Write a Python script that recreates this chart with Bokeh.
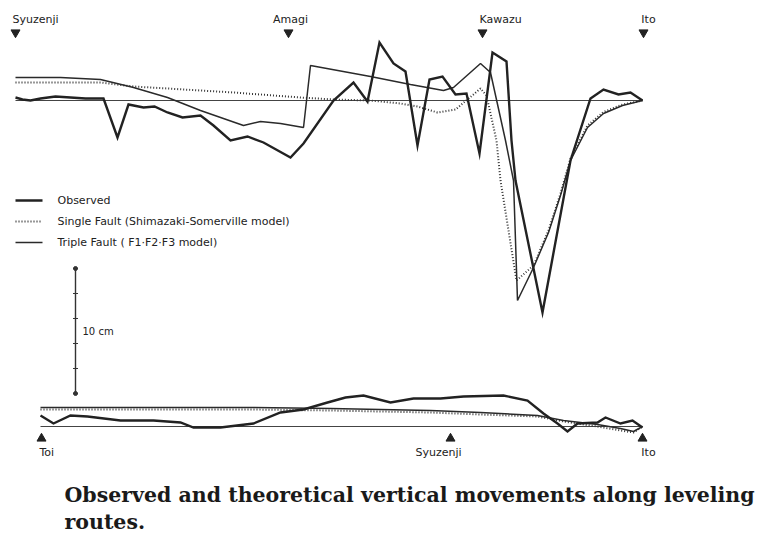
from bokeh.plotting import figure
from bokeh.models import Range1d, Label
from bokeh.embed import file_html
from bokeh.resources import INLINE

# ---------------------------------------------------------------
# Leveling route 1: Syuzenji - Amagi - Kawazu - Ito
# x: distance along the route (plot units), values: vertical movement (cm)
# ---------------------------------------------------------------
top_stations = ["Syuzenji", "Amagi", "Kawazu", "Ito"]
top_station_x = [15, 288, 482, 643]

top_obs_x = [15, 22, 30, 40, 55, 70, 85, 103, 117, 128, 143, 154, 167, 182, 200, 213,
             230, 247, 263, 290, 303, 333, 353, 367, 379, 393, 405, 417, 429, 442,
             455, 466, 479, 492, 506, 511, 515, 542, 570, 590, 603, 618, 630, 642]
top_obs_cm = [0.24, 0.08, 0.0, 0.16, 0.32, 0.24, 0.16, 0.16, -2.96, -0.32, -0.56, -0.48,
              -0.96, -1.36, -1.2, -2.0, -3.2, -2.88, -3.36, -4.56, -3.44, 0.0, 1.44,
              -0.08, 4.64, 2.96, 2.32, -3.6, 1.68, 1.92, 0.48, 0.56, -4.24, 3.84, 3.12,
              -3.2, -6.4, -16.96, -4.8, 0.16, 0.88, 0.48, 0.64, 0.0]

top_single_x = [15, 100, 133, 167, 233, 300, 333, 370, 400, 417, 437, 455, 467, 480, 486,
                496, 500, 516, 533, 548, 560, 570, 587, 603, 622, 642]
top_single_cm = [1.44, 1.44, 1.12, 0.96, 0.64, 0.24, 0.08, 0.0, -0.24, -0.48, -0.96, -0.72,
                 0.08, 0.96, 0.4, -3.2, -6.4, -14.4, -13.2, -10.4, -7.44, -4.64, -2.0,
                 -0.92, -0.32, 0.0]

top_triple_x = [15, 60, 100, 133, 167, 200, 243, 260, 280, 303, 310, 370, 410, 443, 453,
                480, 490, 505, 513, 517, 533, 548, 560, 570, 587, 603, 622, 642]
top_triple_cm = [1.84, 1.84, 1.68, 1.04, 0.24, -0.8, -2.0, -1.68, -1.84, -2.16, 2.8, 1.92,
                 1.28, 0.8, 1.04, 2.96, 2.24, -3.2, -6.4, -16.0, -13.36, -10.56, -7.6,
                 -4.8, -2.16, -1.04, -0.4, 0.0]

# ---------------------------------------------------------------
# Leveling route 2: Toi - Syuzenji - Ito
# ---------------------------------------------------------------
bottom_stations = ["Toi", "Syuzenji", "Ito"]
bottom_station_x = [41, 450, 642]

bottom_obs_x = [40, 53, 70, 87, 120, 153, 180, 193, 220, 253, 280, 303, 327, 345, 363,
                390, 413, 440, 463, 503, 527, 543, 557, 567, 577, 597, 605, 620, 632, 642]
bottom_obs_cm = [0.88, 0.24, 0.88, 0.8, 0.48, 0.48, 0.32, -0.08, -0.08, 0.24, 1.12, 1.36,
                 1.92, 2.32, 2.48, 1.92, 2.24, 2.24, 2.4, 2.48, 2.08, 1.04, 0.24, -0.4,
                 0.24, 0.32, 0.72, 0.24, 0.48, -0.08]

bottom_model_x = [40, 150, 250, 330, 430, 480, 537, 563, 597, 620, 633, 642]
bottom_single_cm = [1.36, 1.36, 1.36, 1.28, 1.12, 0.96, 0.8, 0.4, 0.0, -0.32, -0.48, 0.0]
bottom_triple_cm = [1.52, 1.52, 1.52, 1.44, 1.28, 1.12, 0.88, 0.48, 0.16, -0.16, -0.4, 0.0]

legend_labels = ["Observed",
                 "Single Fault (Shimazaki-Somerville model)",
                 "Triple Fault ( F1\u00b7F2\u00b7F3 model)"]
scale_cm = 10
caption_lines = ["Observed and theoretical vertical movements along leveling",
                 "routes."]

# ---------------------------------------------------------------
# layout (y in cm, one shared vertical scale)
# ---------------------------------------------------------------
W, H = 766, 537
PX_PER_CM = 12.5
Y_TOP = 8.0
Y_BOT = Y_TOP - H / PX_PER_CM
BOTTOM_BASE = -26.08            # zero line of the second route


def ypx(py):
    """page pixel row -> data y (cm)"""
    return Y_TOP - py / PX_PER_CM


INK = "#222222"
SANS = "DejaVu Sans"

p = figure(width=W, height=H, x_range=Range1d(0, W), y_range=Range1d(Y_BOT, Y_TOP),
           x_axis_type=None, y_axis_type=None, toolbar_location=None,
           output_backend="svg", min_border=0, outline_line_color=None,
           background_fill_color="white", border_fill_color="white")
p.grid.visible = False

OBS = dict(line_color=INK, line_width=2.4, line_join="miter")
SINGLE = dict(line_color="#333333", line_width=2.0, line_dash="1 2")
TRIPLE = dict(line_color="#2a2a2a", line_width=1.5)
BASE = dict(line_color="#444444", line_width=1.2)


def route(xs, obs, single_x, single, triple_x, triple, base):
    p.line([xs[0], xs[-1]], [base, base], **BASE)
    p.line(single_x, [v + base for v in single], **SINGLE)
    p.line(triple_x, [v + base for v in triple], **TRIPLE)
    p.line(xs, [v + base for v in obs], **OBS)


route(top_obs_x, top_obs_cm, top_single_x, top_single_cm,
      top_triple_x, top_triple_cm, 0.0)
route(bottom_obs_x, bottom_obs_cm, bottom_model_x, bottom_single_cm,
      bottom_model_x, bottom_triple_cm, BOTTOM_BASE)

# station markers
p.scatter(top_station_x, [ypx(32)] * len(top_station_x), marker="inverted_triangle",
          size=9, color=INK)
p.scatter(bottom_station_x, [ypx(438)] * len(bottom_station_x), marker="triangle",
          size=9, color=INK)

top_label_dx = [-3, 2, 18, 5]
for name, sx, dx in zip(top_stations, top_station_x, top_label_dx):
    align = "left" if name == "Syuzenji" else "center"
    p.add_layout(Label(x=sx + dx, y=ypx(19), text=name, text_font=SANS,
                       text_font_size="11px", text_color=INK, text_align=align,
                       text_baseline="middle"))

bottom_label_dx = [-2, -12, 6]
for name, sx, dx in zip(bottom_stations, bottom_station_x, bottom_label_dx):
    align = "left" if name == "Toi" else "center"
    p.add_layout(Label(x=sx + dx, y=ypx(452), text=name, text_font=SANS,
                       text_font_size="11px", text_color=INK, text_align=align,
                       text_baseline="middle"))

# legend keys
legend_styles = [OBS, SINGLE, TRIPLE]
for i, (lab, sty) in enumerate(zip(legend_labels, legend_styles)):
    yy = ypx(200 + 21 * i)
    p.line([15, 42], [yy, yy], **sty)
    p.add_layout(Label(x=57, y=yy, text=lab, text_font=SANS, text_font_size="11px",
                       text_color=INK, text_align="left", text_baseline="middle"))

# 10 cm scale bar
sb_x, sb_top = 75, ypx(268)
sb_bot = sb_top - scale_cm
p.line([sb_x, sb_x], [sb_top, sb_bot], line_color="#333333", line_width=1.4)
ticks = [sb_top - k for k in range(0, scale_cm + 1, 2)]
p.scatter([sb_x] * len(ticks), ticks, marker="dash", size=5, color="#333333",
          line_width=1.2)
p.scatter([sb_x, sb_x], [sb_top, sb_bot], marker="circle", size=4, color="#333333")
p.add_layout(Label(x=sb_x + 7, y=(sb_top + sb_bot) / 2, text=f"{scale_cm} cm",
                   text_font=SANS, text_font_size="10px", text_color=INK,
                   text_align="left", text_baseline="middle"))

# caption
for i, line in enumerate(caption_lines):
    p.add_layout(Label(x=64, y=ypx(494 + 27 * i), text=line, text_font="DejaVu Serif",
                       text_font_size="20.5px", text_font_style="bold",
                       text_color="#1a1a1a", text_align="left",
                       text_baseline="middle"))

open("out.html", "w").write(file_html(p, INLINE))
